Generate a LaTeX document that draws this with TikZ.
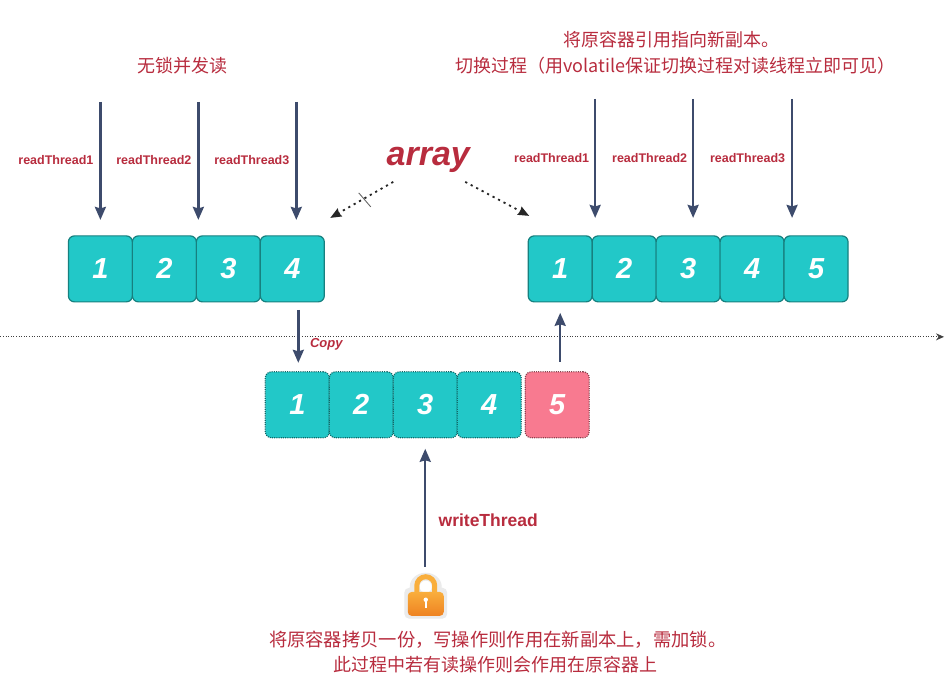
\documentclass[tikz,border=0pt]{standalone}
\usepackage{fontspec}
\setmainfont{Liberation Sans}
\newfontfamily\cjk{Noto Sans CJK SC}
\usetikzlibrary{positioning, arrows.meta}
\definecolor{cellColor}{HTML}{22C8C8}
\definecolor{cellBorder}{HTML}{17807F}
\definecolor{newColor}{HTML}{F87A90}
\definecolor{threadColor}{HTML}{3D4B6C}
\definecolor{labelColor}{HTML}{B82C3E}
\definecolor{lockTop}{HTML}{F9AE3C}
\definecolor{lockBottom}{HTML}{EE8222}

\begin{document}
\begin{tikzpicture}[
    x=1pt, y=-1pt,
    cell/.style={
        rectangle,
        draw=cellBorder,
        line width=1.2pt,
        rounded corners=6pt,
        fill=cellColor,
        minimum width=64pt,
        minimum height=66pt,
        inner sep=0pt,
        outer sep=0pt,
        text=white,
        font=\fontsize{29}{29}\selectfont\bfseries\itshape,
    },
    copycell/.style={
        cell,
        dash pattern=on 1pt off 1.2pt,
        draw=cellBorder!80!black,
    },
    newcell/.style={
        copycell,
        fill=newColor,
        draw=newColor!55!black,
    },
    thread/.style={
        -{Stealth[length=13pt, width=11pt, inset=1.5pt]},
        line width=2.4pt,
        color=threadColor,
    },
    pointer/.style={
        -{Stealth[length=11pt, width=9pt, inset=1pt]},
        line width=1.8pt,
        dash pattern=on 2.2pt off 4pt,
        color=black!85,
    },
    threadlabel/.style={
        text=labelColor,
        inner sep=0pt,
        font=\fontsize{12.5}{12.5}\selectfont\bfseries,
    },
    note/.style={
        text=labelColor,
        inner sep=0pt,
        font=\fontsize{18}{18}\selectfont\cjk,
    },
]

\node[fill=white, minimum width=951pt, minimum height=675pt, inner sep=0pt, outer sep=0pt, anchor=north west] (page) at (0,0) {};

% ===== Titulos =====
\node[note] (lockfree) at (182,66) {无锁并发读};
\node[note] (switchone) at (671,40) {将原容器引用指向新副本。};
\node[note] (switchtwo) at (675,66) {切换过程（用volatile保证切换过程对读线程立即可见）};
\node[text=labelColor, inner sep=0pt, font=\fontsize{34}{34}\selectfont\bfseries\itshape] (array) at (428,160) {array};

% ===== Array original =====
\node[cell, anchor=north west] (old1) at (68,236) {1};
\node[cell, right=0pt of old1] (old2) {2};
\node[cell, right=0pt of old2] (old3) {3};
\node[cell, right=0pt of old3] (old4) {4};

% ===== Array nuevo =====
\node[cell, anchor=north west] (new1) at (528,236) {1};
\node[cell, right=0pt of new1] (new2) {2};
\node[cell, right=0pt of new2] (new3) {3};
\node[cell, right=0pt of new3] (new4) {4};
\node[cell, right=0pt of new4] (new5) {5};

% ===== Copia =====
\node[copycell, anchor=north west] (copy1) at (265,372) {1};
\node[copycell, right=0pt of copy1] (copy2) {2};
\node[copycell, right=0pt of copy2] (copy3) {3};
\node[copycell, right=0pt of copy3] (copy4) {4};
\node[newcell, right=4pt of copy4] (copy5) {5};

% ===== Lectores =====
\node[threadlabel] (oldlabel1) at (55.5,160) {readThread1};
\node[threadlabel] (oldlabel2) at (153.5,160) {readThread2};
\node[threadlabel] (oldlabel3) at (251.5,160) {readThread3};
\node[threadlabel] (newlabel1) at (551.5,158) {readThread1};
\node[threadlabel] (newlabel2) at (649.5,158) {readThread2};
\node[threadlabel] (newlabel3) at (747.5,158) {readThread3};

\coordinate (oldstart1) at (100,102);
\coordinate (oldend1) at (100,220);
\coordinate (oldstart2) at (198,102);
\coordinate (oldend2) at (198,220);
\coordinate (oldstart3) at (296,102);
\coordinate (oldend3) at (296,220);
\coordinate (newstart1) at (595,99);
\coordinate (newend1) at (595,218);
\coordinate (newstart2) at (693,99);
\coordinate (newend2) at (693,218);
\coordinate (newstart3) at (792,99);
\coordinate (newend3) at (792,218);

\draw[thread] (oldstart1) -- (oldend1);
\draw[thread] (oldstart2) -- (oldend2);
\draw[thread] (oldstart3) -- (oldend3);
\draw[thread] (newstart1) -- (newend1);
\draw[thread] (newstart2) -- (newend2);
\draw[thread] (newstart3) -- (newend3);

% ===== Puntero array =====
\coordinate (arrayleft) at (393,182);
\coordinate (oldtarget) at (330,218);
\coordinate (arrayright) at (465,182);
\coordinate (newtarget) at (529,216);
\coordinate (ticktop) at (358.5,193);
\coordinate (tickbottom) at (370.5,207);
\draw[pointer] (arrayleft) -- (oldtarget);
\draw[pointer] (arrayright) -- (newtarget);
\draw[line width=0.9pt, color=black!60] (ticktop) -- (tickbottom);

% ===== Linea divisoria =====
\coordinate (linestart) at (0,337);
\coordinate (lineend) at (944,337);
\draw[-{Stealth[length=8pt, width=7pt]}, dash pattern=on 1pt off 1.6pt, line width=0.9pt, color=black!75] (linestart) -- (lineend);

% ===== Copia y publicacion =====
\coordinate (copystart) at (298,310);
\coordinate (copyend) at (298,363);
\coordinate (swapstart) at (560,362);
\coordinate (swapend) at (560,313);
\draw[thread] (copystart) -- (copyend);
\draw[thread] (swapstart) -- (swapend);
\node[text=labelColor, inner sep=0pt, font=\fontsize{13}{13}\selectfont\bfseries\itshape] (copylabel) at (326,344) {Copy};

% ===== Escritor =====
\coordinate (lockbar) at (425,567);
\coordinate (writeend) at (425,449);
\draw[thread] (lockbar) -- (writeend);
\node[text=labelColor, inner sep=0pt, font=\fontsize{17.5}{17.5}\selectfont\bfseries] (writelabel) at (488,520) {writeThread};

% ===== Candado =====
\fill[black!8, rounded corners=5pt] (404,588) rectangle (447,619);
\fill[black!8] (425.5,587) ellipse[x radius=16pt, y radius=14pt];
\fill[white] (425.5,587) circle[radius=6pt];
\draw[lockTop, line width=5pt] (416.5,594) -- (416.5,586) arc[start angle=180, end angle=0, radius=9pt] -- (434.5,594);
\node[rectangle, rounded corners=4pt, top color=lockTop, bottom color=lockBottom, minimum width=36pt, minimum height=24pt, inner sep=0pt, anchor=north] (lock) at (425.5,592) {};
\fill[white] (425.5,600) circle[radius=2.2pt];
\fill[white] (424.5,600) rectangle (426.5,608);

% ===== Notas inferiores =====
\node[note, font=\fontsize{18.3}{18.3}\selectfont\cjk] (notecopy) at (497.5,640) {将原容器拷贝一份，写操作则作用在新副本上，需加锁。};
\node[note] (noteread) at (495,665) {此过程中若有读操作则会作用在原容器上};

\end{tikzpicture}
\end{document}
